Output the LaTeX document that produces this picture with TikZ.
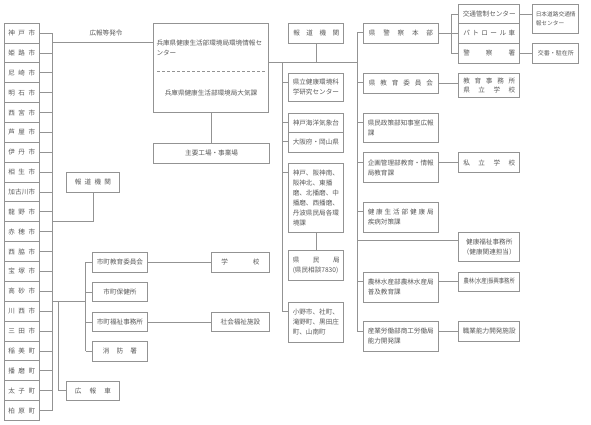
\documentclass[tikz,border=0pt]{standalone}
\usepackage{fontspec}
\setmainfont{Noto Sans CJK JP}
\usepackage{graphicx}
\definecolor{lc}{HTML}{939393}
\definecolor{tc}{HTML}{5A5A5A}
\newcommand\fs{\fontsize{6.6}{10}\selectfont}
\newcommand\tkL[2]{\coordinate (#2t) at ([yshift=-10pt]#2.north west);\coordinate (#2te) at ([yshift=-10pt]#2.north east);\draw[ln] (#1 |- #2t) -- (#2t);}
\begin{document}
\begin{tikzpicture}[x=1pt,y=-1pt,
  bx/.style 2 args={draw=lc, line width=0.9pt, anchor=north west, inner sep=0pt,
     minimum width=#1pt, minimum height=#2pt, text=tc, font=\fs},
  lt/.style={align=left, text width=#1pt},
  ct/.style={align=center},
  txt/.style={inner sep=0pt, text=tc, font=\fs},
  ln/.style={draw=lc, line width=0.8pt},
  dl/.style={draw=lc, line width=0.6pt, dash pattern=on 3pt off 2pt}]
\useasboundingbox (0,0) rectangle (591,424);
\fill[white] (0,0) rectangle (591,424);
% ---------------- city column
\foreach \t [count=\i from 0] in {{神\hfill 戸\hfill 市},{姫\hfill 路\hfill 市},{尼\hfill 崎\hfill 市},{明\hfill 石\hfill 市},{西\hfill 宮\hfill 市},{芦\hfill 屋\hfill 市},{伊\hfill 丹\hfill 市},{相\hfill 生\hfill 市},{加\hfill 古\hfill 川\hfill 市},{龍\hfill 野\hfill 市},{赤\hfill 穂\hfill 市},{西\hfill 脇\hfill 市},{宝\hfill 塚\hfill 市},{高\hfill 砂\hfill 市},{川\hfill 西\hfill 市},{三\hfill 田\hfill 市},{稲\hfill 美\hfill 町},{播\hfill 磨\hfill 町},{太\hfill 子\hfill 町},{柏\hfill 原\hfill 町}}
  {\node[bx={34.7}{19.87}] (c\i) at (4,{22.7+\i*19.865}) {\makebox[27pt]{\t}};}
\coordinate (busL) at (52,0);
\foreach \i in {0,...,19} {\draw[ln] (c\i.east) -- (c\i.east -| busL);}
\draw[ln] (c0.east -| busL) -- (c19.east -| busL);
% ---------------- centre
\node[bx={115}{89.3}] (hq) at (153.3,22.7) {};
\node[txt, lt=110, anchor=west] (hqa) at (156.3,48) {兵庫県健康生活部環境局環境情報セ\\ンター};
\draw[dl] (157,71.7) -- (265,71.7);
\node[txt] (hqb) at (211,93.3) {兵庫県健康生活部環境局大気課};
\node[txt] (kohotxt) at (106,33) {広報等発令};
\draw[ln] (busL |- c1.north) -- (hq.west |- c1.north);
\node[bx={115.7}{20}] (shuyo) at (153.3,142.5) {主要工場・事業場};
\draw[ln] (hq.south) -- (hq.south |- shuyo.north);
% ---------------- left groups
\node[bx={53.6}{19.4}] (hodoL) at (65.7,172.3) {\makebox[36pt]{報\hfill 道\hfill 機\hfill 関}};
\coordinate (j1) at (52,221);
\draw[ln] (hodoL.south) -- (hodoL.south |- j1) -- (j1);
\coordinate (j2) at (52,301.7);
\coordinate (bus2) at (85.7,0);
\coordinate (bus3) at (58.3,0);
\node[bx={54.4}{20}] (shiEdu) at (92.3,251.7) {市町教育委員会};
\node[bx={54.4}{19.5}] (shiHoken) at (92.3,281.7) {市町保健所};
\node[bx={54.4}{19.5}] (shiFuku) at (92.3,311.7) {市町福祉事務所};
\node[bx={54.4}{19.7}] (shobo) at (92.3,341) {\makebox[34pt]{消\hfill 防\hfill 署}};
\node[bx={53.6}{19.3}] (koho) at (65.7,380.7) {\makebox[36pt]{広\hfill 報\hfill 車}};
\node[bx={58}{20}] (gakko) at (211,251.7) {\makebox[38pt]{学\hfill 校}};
\node[bx={58}{19.5}] (shakai) at (211,311.7) {社会福祉施設};
\draw[ln] (j2) -- (bus2 |- j2);
\draw[ln] (bus2 |- shiEdu.west) -- (bus2 |- shobo.west);
\foreach \n in {shiEdu,shiHoken,shiFuku,shobo} {\draw[ln] (bus2 |- \n.west) -- (\n.west);}
\draw[ln] (bus3 |- j2) -- (bus3 |- koho.west) -- (koho.west);
\draw[ln] (shiEdu.east) -- (gakko.west);
\draw[ln] (shiFuku.east) -- (shakai.west);
% ---------------- right-centre column
\coordinate (busR1) at (282.7,0);
\coordinate (busR2) at (357,0);
\coordinate (jy) at (0,62.7);
\node[bx={55}{20}] (hodoR) at (288.3,22.7) {\makebox[46pt]{報\hfill 道\hfill 機\hfill 関}};
\node[bx={55}{28}] (kenritsu) at (288.3,72.7) {\begin{minipage}{47pt}県立健康環境科\\学研究センター\end{minipage}};
\node[bx={55}{19}, lt=47] (kaiyo) at (288.3,112.7) {神戸海洋気象台};
\node[bx={55}{20.5}, lt=47] (osaka) at (288.3,131.7) {大阪府・岡山県};
\node[bx={55}{69}, lt=47] (kenmin) at (288.3,162.7) {神戸、阪神南、\\阪神北、東播\\磨、北播磨、中\\播磨、西播磨、\\丹波県民局各環\\境課};
\node[bx={55}{30}, lt=47] (kenminkyoku) at (288.3,250) {\makebox[47pt]{県\hfill 民\hfill 局}\\(県民相談7830)};
\node[bx={55}{40}, lt=47] (ono) at (288.3,301.7) {小野市、社町、\\滝野町、黒田庄\\町、山南町};
\draw[ln] (hq.east |- jy) -- (busR2 |- jy);
\draw[ln] (hodoR.south) -- (hodoR.south |- jy);
\draw[ln] (kenmin.south) -- (kenminkyoku.north);
\foreach \n in {kenritsu,kaiyo,osaka,kenmin,ono} {\tkL{busR1}{\n}}
\draw[ln] (busR1 |- jy) -- (busR1 |- onot);
% ---------------- right column
\node[bx={74.4}{20}] (keisatsu) at (363.3,22.7) {\makebox[64pt]{県\hfill 警\hfill 察\hfill 本\hfill 部}};
\node[bx={74.4}{20}] (kyoiku) at (363.3,72.7) {\makebox[64pt]{県\hfill 教\hfill 育\hfill 委\hfill 員\hfill 会}};
\node[bx={74.4}{29.3}, lt=66.4] (kseisaku) at (363.3,112.7) {県民政策部知事室広報\\課};
\node[bx={74.4}{30}, lt=66.4] (kikaku) at (363.3,152.3) {企画管理部教育・情報\\局教育課};
\node[bx={74.4}{30}, lt=66.4] (kenko) at (363.3,201.7) {\makebox[66pt]{健\hfill 康\hfill 生\hfill 活\hfill 部\hfill 健\hfill 康\hfill 局}\\疾病対策課};
\node[bx={74.4}{30}, lt=66.4] (norin) at (363.3,271.7) {農林水産部農林水産局\\普及教育課};
\node[bx={74.4}{30}, lt=66.4] (sangyo) at (363.3,321) {産業労働部商工労働局\\能力開発課};
\foreach \n in {keisatsu,kyoiku,kseisaku,kikaku,kenko,norin,sangyo} {\tkL{busR2}{\n}}
\draw[ln] (busR2 |- keisatsut) -- (busR2 |- sangyot);
% ---------------- far right
\node[bx={61}{19.3}] (kotsu) at (458.3,4) {交通管制センター};
\node[bx={61}{19.4}] (patrol) at (458.3,23.3) {\makebox[52pt]{パ\hfill ト\hfill ロ\hfill ー\hfill ル\hfill 車}};
\node[bx={61}{20}] (keisatsusho) at (458.3,42.7) {\makebox[52pt]{警\hfill 察\hfill 署}};
\node[bx={46}{28.7}, lt=40, font=\fontsize{5.7}{9}\selectfont] (nihon) at (532.3,4) {日本道路交通情\\報センター};
\node[bx={46}{20}, font=\fontsize{6}{9}\selectfont] (koban) at (532.3,42.7) {交番・駐在所};
\node[bx={61}{24}, ct] (kyoikuj) at (458.3,72.7) {\makebox[52pt]{教\hfill 育\hfill 事\hfill 務\hfill 所}\\[-1pt]\makebox[52pt]{県\hfill 立\hfill 学\hfill 校}};
\node[bx={61}{20}] (shiritsu) at (458.3,152.3) {\makebox[52pt]{私\hfill 立\hfill 学\hfill 校}};
\node[bx={61}{28.7}, ct] (kfuku) at (458.3,232.3) {健康福祉事務所\\（健康関連担当）};
\node[bx={61}{19.3}] (norinj) at (458.3,271.7) {\scalebox{0.8}[1]{農林(水産)振興事務所}};
\node[bx={61}{20}] (shokugyo) at (458.3,321) {職業能力開発施設};
\coordinate (bk) at (451.7,0);
\draw[ln] (keisatsu.east) -- (keisatsu.east -| patrol.west);
\draw[ln] (kotsu.west) -- (bk |- kotsu.west) -- (bk |- keisatsusho.west) -- (keisatsusho.west);
\draw[ln] (kotsu.east) -- (kotsu.east -| nihon.west);
\draw[ln] (keisatsusho.east) -- (koban.west);
\draw[ln] (kyoiku.east) -- (kyoiku.east -| kyoikuj.west);
\draw[ln] (kikakute) -- (kikakute -| shiritsu.west);
\coordinate (kft) at ([yshift=-8pt]kfuku.north west);
\draw[ln] (busR2 |- kft) -- (kft);
\draw[ln] (norinte) -- (norinte -| norinj.west);
\draw[ln] (sangyote) -- (sangyote -| shokugyo.west);
\end{tikzpicture}
\end{document}
